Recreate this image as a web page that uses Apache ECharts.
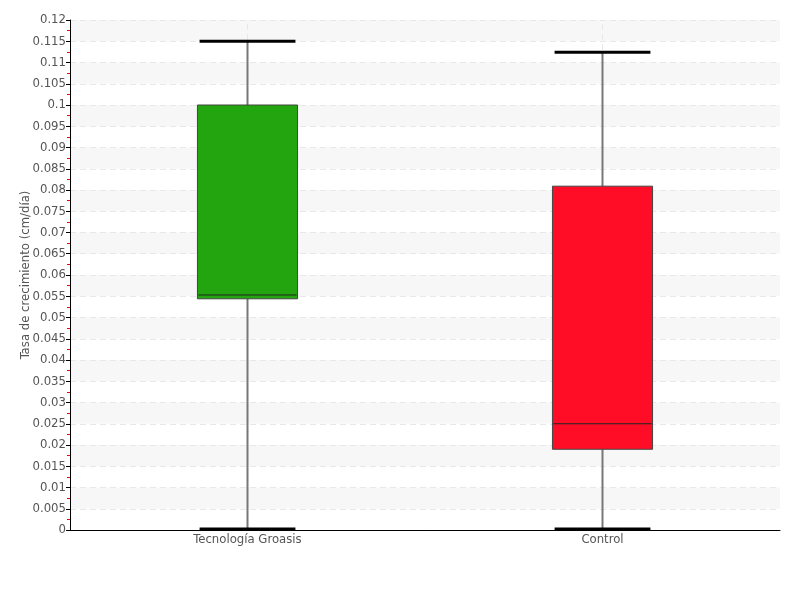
<!DOCTYPE html>
<html><head><meta charset="utf-8">
<script src="https://cdn.jsdelivr.net/npm/echarts@6/dist/echarts.min.js"></script>
<style>html,body{margin:0;padding:0;background:#fff}#c{width:800px;height:600px}</style>
</head><body><div id="c"></div>
<script>
const categories = ['Tecnología Groasis', 'Control'];
// [min, q1, median, q3, max]
const groasisStats = [0, 0.0544, 0.0553, 0.1, 0.115];
const controlStats = [0, 0.019, 0.025, 0.0809, 0.1124];
const boxColors = ['#22a50f', '#ff0d27'];
const yTicks = {min: 0, max: 0.12, interval: 0.005};

const font = '"DejaVu Sans Condensed", "Liberation Sans Narrow", sans-serif';
const chart = echarts.init(document.getElementById('c'));
const data = [groasisStats, controlStats].map((s, i) => [i].concat(s));

chart.setOption({
  animation: false,
  grid: {left: 70, right: 20, top: 20, bottom: 70},
  xAxis: {
    type: 'category', data: categories, boundaryGap: true,
    axisLine: {lineStyle: {color: '#000', width: 1}},
    axisTick: {show: false},
    axisLabel: {color: '#555', fontFamily: font, fontSize: 13, margin: 3},
    splitLine: {show: false}
  },
  yAxis: {
    type: 'value', min: yTicks.min, max: yTicks.max, interval: yTicks.interval,
    name: 'Tasa de crecimiento (cm/día)', nameLocation: 'middle', nameGap: 38,
    nameMoveOverlap: false,
    nameTextStyle: {color: '#555', fontFamily: font, fontSize: 13},
    axisLine: {show: true, lineStyle: {color: '#000', width: 1}},
    axisTick: {show: true, length: 4, lineStyle: {color: '#000'}},
    minorTick: {show: true, splitNumber: 2, length: 3, lineStyle: {color: '#f00'}},
    axisLabel: {color: '#555', fontFamily: font, fontSize: 13, margin: 4,
      formatter: v => String(Math.round(v * 1000) / 1000)},
    splitLine: {show: true, lineStyle: {color: '#e8e8e8', type: [6, 4]}},
    splitArea: {show: true, areaStyle: {color: ['rgba(255,255,255,0)', '#f7f7f7']}}
  },
  series: [{
    type: 'line', data: [], z: 1, silent: true,
    markLine: {silent: true, z: 1, symbol: 'none', label: {show: false},
      lineStyle: {color: '#e8e8e8', type: [6, 4], width: 1},
      data: categories.map(c => ({xAxis: c}))}
  }, {
    type: 'custom', z: 10,
    data: data,
    renderItem: function (params, api) {
      const i = api.value(0);
      const pMin = api.coord([i, api.value(1)]);
      const pQ1 = api.coord([i, api.value(2)]);
      const pMed = api.coord([i, api.value(3)]);
      const pQ3 = api.coord([i, api.value(4)]);
      const pMax = api.coord([i, api.value(5)]);
      const bw = api.size([1, 0])[0];
      const half = bw * 0.141;
      const capHalf = bw * 0.135;
      const x = pQ1[0];
      return {type: 'group', children: [
        {type: 'line', shape: {x1: x, y1: pMax[1], x2: x, y2: pQ3[1]}, style: {stroke: '#777', lineWidth: 2}},
        {type: 'line', shape: {x1: x, y1: pQ1[1], x2: x, y2: pMin[1]}, style: {stroke: '#777', lineWidth: 2}},
        {type: 'line', shape: {x1: x - capHalf, y1: pMax[1], x2: x + capHalf, y2: pMax[1]}, style: {stroke: '#000', lineWidth: 3}},
        {type: 'line', shape: {x1: x - capHalf, y1: pMin[1] - 1, x2: x + capHalf, y2: pMin[1] - 1}, style: {stroke: '#000', lineWidth: 3}},
        {type: 'rect', shape: {x: x - half, y: pQ3[1], width: half * 2, height: pQ1[1] - pQ3[1]},
          style: {fill: boxColors[i], stroke: '#444', lineWidth: 1}},
        {type: 'line', shape: {x1: x - half + 1, y1: pMed[1], x2: x + half - 1, y2: pMed[1]}, style: {stroke: '#222', lineWidth: 1}}
      ]};
    }
  }]
});
</script></body></html>
